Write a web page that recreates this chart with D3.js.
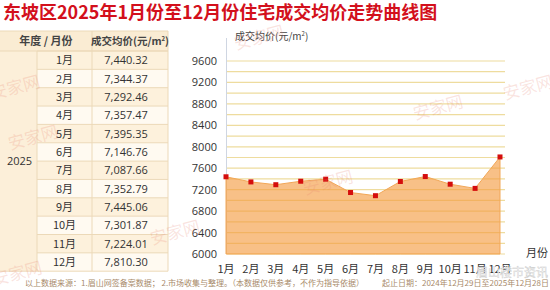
<!DOCTYPE html>
<html>
<head>
<meta charset="utf-8">
<script src="https://cdn.jsdelivr.net/npm/d3@7"></script>
<style>
  body { margin: 0; background: #fff; }
  text { font-family: "Noto Sans CJK SC", "Noto Sans", sans-serif; }
</style>
</head>
<body>
<svg width="550" height="290"></svg>
<script>
// data
var months = ["1月", "2月", "3月", "4月", "5月", "6月", "7月", "8月", "9月", "10月", "11月", "12月"];
var prices = [7440.32, 7344.37, 7292.46, 7357.47, 7395.35, 7146.76, 7087.66, 7352.79, 7445.06, 7301.87, 7224.01, 7810.30];
var yTicks = [6000, 6400, 6800, 7200, 7600, 8000, 8400, 8800, 9200, 9600];
var year = "2025";

var svg = d3.select("svg");

// title
svg.append("text")
    .attr("x", 3).attr("y", 19)
    .attr("font-size", 18).attr("font-weight", "bold")
    .attr("fill", "#d3101c")
    .text("东坡区2025年1月份至12月份住宅成交均价走势曲线图");

// table
var tx = [0, 37, 92, 168];
var headTop = 31, headH = 20, rowH = 18.35;
var tbl = svg.append("g");

tbl.append("rect").attr("x", 0).attr("y", headTop).attr("width", tx[3]).attr("height", headH)
    .attr("fill", "#faecd3");
months.forEach(function (m, i) {
    var y = headTop + headH + i * rowH;
    tbl.append("rect").attr("x", tx[1]).attr("y", y).attr("width", tx[3] - tx[1]).attr("height", rowH)
        .attr("fill", i % 2 === 0 ? "#fdf1dc" : "#fffaf1");
    tbl.append("line").attr("x1", tx[1]).attr("x2", tx[3]).attr("y1", y).attr("y2", y)
        .attr("stroke", "#ecd9b8");
    tbl.append("text").attr("x", (tx[1] + tx[2]) / 2).attr("y", y + rowH / 2 + 4)
        .attr("text-anchor", "middle").attr("font-size", 11).attr("fill", "#333")
        .text(m);
    tbl.append("text").attr("x", (tx[2] + tx[3]) / 2 - 4).attr("y", y + rowH / 2 + 4)
        .attr("text-anchor", "middle").attr("font-size", 11).attr("fill", "#333")
        .style("font-family", "'Open Sans', sans-serif")
        .text(d3.format(",.2f")(prices[i]));
});
var bodyTop = headTop + headH, bodyBot = bodyTop + months.length * rowH;
tbl.append("rect").attr("x", 0).attr("y", bodyTop).attr("width", tx[1]).attr("height", bodyBot - bodyTop)
    .attr("fill", "#fcefd9");
tbl.append("text").attr("x", tx[1] / 2 + 1).attr("y", (bodyTop + bodyBot) / 2 + 4)
    .attr("text-anchor", "middle").attr("font-size", 11).attr("fill", "#333")
    .style("font-family", "'Open Sans', sans-serif")
    .text(year);
[tx[1], tx[2], tx[3]].forEach(function (x, k) {
    tbl.append("line").attr("x1", x).attr("x2", x)
        .attr("y1", k === 0 ? bodyTop : headTop).attr("y2", bodyBot)
        .attr("stroke", "#ecd9b8");
});
tbl.append("line").attr("x1", 0).attr("x2", tx[3]).attr("y1", headTop).attr("y2", headTop).attr("stroke", "#ecd9b8");
tbl.append("line").attr("x1", 0).attr("x2", tx[3]).attr("y1", bodyTop).attr("y2", bodyTop).attr("stroke", "#ecd9b8");
tbl.append("line").attr("x1", 0).attr("x2", tx[3]).attr("y1", bodyBot).attr("y2", bodyBot).attr("stroke", "#ecd9b8");
tbl.append("text").attr("x", tx[2] / 2).attr("y", headTop + headH / 2 + 4)
    .attr("text-anchor", "middle").attr("font-size", 11).attr("font-weight", "bold").attr("fill", "#444")
    .text("年度 / 月份");
var ph = tbl.append("text").attr("x", (tx[2] + tx[3]) / 2).attr("y", headTop + headH / 2 + 4)
    .attr("text-anchor", "middle").attr("font-size", 10.5).attr("font-weight", "bold").attr("fill", "#444");
ph.append("tspan").text("成交均价(元/m");
ph.append("tspan").attr("font-size", 6).attr("dy", -4).text("2");
ph.append("tspan").attr("dy", 4).text(")");

// chart
var x = d3.scalePoint().domain(months).range([226, 500]);
var y = d3.scaleLinear().domain([6000, 9600]).range([254, 61]);

var grid = d3.range(6000, 9601, 200);
svg.append("g").selectAll("line").data(grid).enter().append("line")
    .attr("x1", 227).attr("x2", 505)
    .attr("y1", function (d) { return y(d); }).attr("y2", function (d) { return y(d); })
    .attr("stroke", "#eedc9e").attr("stroke-width", 1.2);

svg.append("line").attr("x1", 226.5).attr("x2", 226.5).attr("y1", 38).attr("y2", 254)
    .attr("stroke", "#cfd6e2");

var area = d3.area()
    .x(function (d, i) { return x(months[i]); })
    .y0(y(6000))
    .y1(function (d) { return y(d); });
svg.append("path").datum(prices).attr("d", area)
    .attr("fill", "#f39a3d").attr("fill-opacity", 0.62)
    .attr("stroke", "#f2a757").attr("stroke-width", 1);

svg.append("g").selectAll("rect").data(prices).enter().append("rect")
    .attr("x", function (d, i) { return x(months[i]) - 2.5; })
    .attr("y", function (d) { return y(d) - 2.5; })
    .attr("width", 5).attr("height", 5)
    .attr("fill", "#d40d0d");

// y labels
svg.append("g").selectAll("text").data(yTicks).enter().append("text")
    .attr("x", 217).attr("y", function (d) { return y(d) + 4; })
    .attr("text-anchor", "end").attr("font-size", 11).attr("fill", "#333")
    .style("font-family", "'Open Sans', sans-serif")
    .text(function (d) { return d; });

// x labels
svg.append("g").selectAll("text").data(months).enter().append("text")
    .attr("x", function (d) { return x(d); }).attr("y", 273)
    .attr("text-anchor", "middle").attr("font-size", 11).attr("fill", "#333")
    .text(function (d) { return d; });

var yt = svg.append("text").attr("x", 235).attr("y", 40).attr("font-size", 10).attr("fill", "#444");
yt.append("tspan").text("成交均价(元/m");
yt.append("tspan").attr("font-size", 6).attr("dy", -4).text("2");
yt.append("tspan").attr("dy", 4).text(")");

svg.append("text").attr("x", 548).attr("y", 257).attr("text-anchor", "end")
    .attr("font-size", 11).attr("fill", "#333").text("月份");

// watermarks
var wm = [[-8, 100, -15, "安家网"], [236, 50, -15, "安家网"], [10, 150, -15, "安家网"], [305, 195, -15, "安家网"],
          [415, 120, -15, "安家网"], [152, 245, -15, "安家网"], [505, 100, -15, "安家网"], [-6, 286, -15, "安家网"]];
svg.append("g").selectAll("text").data(wm).enter().append("text")
    .attr("transform", function (d) { return "translate(" + d[0] + "," + d[1] + ") rotate(" + d[2] + ")"; })
    .attr("font-size", 17).attr("fill", "#e8826f").attr("fill-opacity", 0.22)
    .text(function (d) { return d[3]; });

// footer
svg.append("text").attr("x", 25).attr("y", 286).attr("font-size", 8).attr("fill", "#a88a6a")
    .text("以上数据来源：1.眉山网签备案数据； 2.市场收集与整理。（本数据仅供参考，不作为指导依据）");
svg.append("text").attr("x", 549).attr("y", 286).attr("text-anchor", "end").attr("font-size", 8).attr("fill", "#a88a6a")
    .text("起止日期：2024年12月29日至2025年12月28日");
svg.append("text").attr("x", 548).attr("y", 277).attr("text-anchor", "end").attr("font-size", 12)
    .attr("fill", "#fff").attr("stroke", "#c9c9c9").attr("stroke-width", 0.4)
    .text("眉山楼市资讯");
</script>
</body>
</html>
